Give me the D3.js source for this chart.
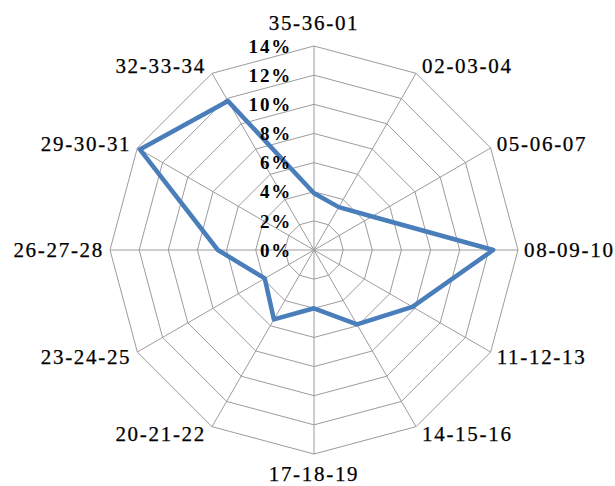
<!DOCTYPE html>
<html>
<head>
<meta charset="utf-8">
<script src="https://cdn.jsdelivr.net/npm/d3@7"></script>
<style>
  html, body { margin: 0; padding: 0; background: #fff; }
  svg { display: block; }
</style>
</head>
<body>
<svg id="chart" width="615" height="486"></svg>
<script>
// Three-day period groups around the radar, clockwise from the top
const categories = [
  "35-36-01", "02-03-04", "05-06-07", "08-09-10", "11-12-13", "14-15-16",
  "17-18-19", "20-21-22", "23-24-25", "26-27-28", "29-30-31", "32-33-34"
];
// Share of the total for each group, in percent
const shares = [3.9, 3.4, 4.6, 12.3, 7.8, 5.9, 4.0, 5.5, 3.9, 6.6, 13.8, 11.8];
// Ring levels and their labels
const tickValues = [0, 2, 4, 6, 8, 10, 12, 14];
const tickLabels = ["0%", "2%", "4%", "6%", "8%", "10%", "12%", "14%"];

const svg = d3.select("#chart");
const cx = 314, cy = 250, outerR = 204;

const r = d3.scaleLinear().domain([0, 14]).range([0, outerR]);
const angle = d3.scaleLinear().domain([0, categories.length]).range([0, 2 * Math.PI]);

const pt = (i, v) => {
  const a = angle(i);
  return [cx + Math.sin(a) * r(v), cy - Math.cos(a) * r(v)];
};

const g = svg.append("g");

// Polygon gridlines, one per ring level
const ringLine = d3.line();
g.selectAll("path.ring")
  .data(tickValues.filter(v => v > 0))
  .join("path")
  .attr("class", "ring")
  .attr("d", v => ringLine(categories.map((c, i) => pt(i, v))) + "Z")
  .attr("fill", "none")
  .attr("stroke", "#9c9c9c")
  .attr("stroke-width", 1);

// Spokes
g.selectAll("line.spoke")
  .data(categories)
  .join("line")
  .attr("class", "spoke")
  .attr("x1", cx).attr("y1", cy)
  .attr("x2", (c, i) => pt(i, 14)[0])
  .attr("y2", (c, i) => pt(i, 14)[1])
  .attr("stroke", "#9c9c9c")
  .attr("stroke-width", 1);

// Data series
g.append("path")
  .datum(shares)
  .attr("d", d3.line().x((v, i) => pt(i, v)[0]).y((v, i) => pt(i, v)[1]).curve(d3.curveLinearClosed))
  .attr("fill", "none")
  .attr("stroke", "#4a7ebb")
  .attr("stroke-width", 4.5)
  .attr("stroke-linejoin", "round");

// Ring value labels along the top spoke
g.selectAll("text.tick")
  .data(tickValues)
  .join("text")
  .attr("class", "tick")
  .attr("x", cx - 22)
  .attr("y", v => cy - r(v))
  .attr("dy", "0.35em")
  .attr("text-anchor", "end")
  .attr("font-family", "'Liberation Serif', 'Times New Roman', serif")
  .attr("font-weight", "bold")
  .attr("font-size", 19)
  .attr("letter-spacing", "1.8px")
  .attr("fill", "#000")
  .text((v, i) => tickLabels[i]);

// Category labels just outside the outer ring
g.selectAll("text.cat")
  .data(categories)
  .join("text")
  .attr("class", "cat")
  .each(function(c, i) {
    const a = angle(i);
    const [x, y] = pt(i, 14);
    const s = Math.sin(a), co = Math.cos(a);
    const t = d3.select(this);
    if (Math.abs(s) < 1e-6) {
      t.attr("x", x).attr("y", y - co * (co > 0 ? 23 : 20)).attr("text-anchor", "middle");
    } else {
      t.attr("x", x + (s > 0 ? 6 : -6))
       .attr("y", y - co * 8.5)
       .attr("text-anchor", s > 0 ? "start" : "end");
    }
  })
  .attr("dy", "0.35em")
  .attr("font-family", "'Liberation Serif', 'Times New Roman', serif")
  .attr("font-size", 21)
  .attr("letter-spacing", "1.7px")
  .attr("fill", "#000")
  .attr("stroke", "#000")
  .attr("stroke-width", 0.25)
  .text(c => c);
</script>
</body>
</html>
